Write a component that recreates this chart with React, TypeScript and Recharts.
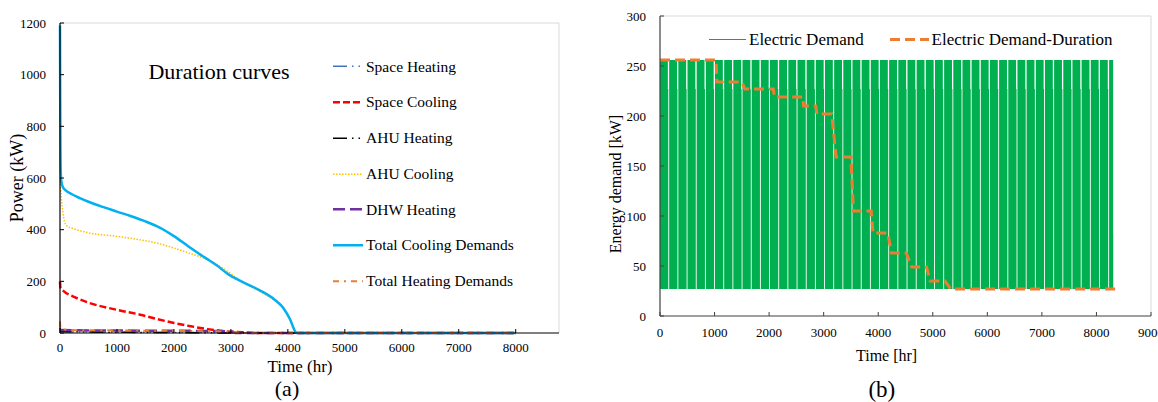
import React from "react";
import { ComposedChart, Line, Area, XAxis, YAxis, ReferenceLine } from "recharts";

const FONT = '"Liberation Serif", "Times New Roman", Times, serif';

// ---- panel (a): duration curves, [hour, kW] ----
const X_TICKS_A = [0, 1000, 2000, 3000, 4000, 5000, 6000, 7000, 8000];
const Y_TICKS_A = [0, 200, 400, 600, 800, 1000, 1200];

const SPACE_HEATING = [[0, 10], [200, 4], [1000, 3], [2000, 2], [3000, 1], [3500, 0], [8000, 0]];
const SPACE_COOLING = [
  [0, 200], [8, 175], [50, 165], [106, 155], [225, 142], [521, 116], [994, 90], [1408, 71],
  [1704, 54], [2000, 39], [2296, 26], [2592, 15], [2888, 7], [3183, 3], [3500, 0], [8000, 0],
];
const AHU_HEATING = [[0, 20], [20, 6], [500, 4], [1500, 2], [2500, 1], [3000, 0], [8000, 0]];
const AHU_COOLING = [
  [0, 600], [10, 560], [25, 520], [50, 470], [80, 430], [120, 415], [250, 403], [500, 388],
  [1000, 374], [1400, 361], [1700, 348], [2000, 329], [2300, 307], [2600, 283], [2900, 245],
  [3200, 198], [3500, 161], [3780, 124], [3920, 97], [4040, 52], [4130, 6], [4160, 0], [8000, 0],
];
const DHW_HEATING = [[0, 12], [500, 10], [1500, 9], [2500, 8], [3000, 6], [3100, 0], [8000, 0]];
const TOTAL_COOLING = [
  [0, 1190], [4, 900], [8, 720], [14, 620], [25, 585], [50, 565], [100, 552], [200, 538],
  [350, 522], [500, 508], [750, 488], [1000, 470], [1250, 452], [1500, 432], [1750, 408],
  [2000, 375], [2250, 336], [2500, 298], [2600, 284], [2750, 262], [2950, 228], [3200, 198],
  [3500, 166], [3780, 127], [3920, 97], [4040, 52], [4130, 6], [4160, 0], [8000, 0],
];
const TOTAL_HEATING = [
  [0, 45], [5, 25], [30, 14], [300, 11], [1000, 10], [2000, 8], [2800, 6], [3100, 2], [3300, 0], [8000, 0],
];

// ---- panel (b): electric demand ----
const X_TICKS_B = [0, 1000, 2000, 3000, 4000, 5000, 6000, 7000, 8000, 9000];
const Y_TICKS_B = [0, 50, 100, 150, 200, 250, 300];

// weekly blocks of the hourly electric demand
const WEEK_STARTS = [
  0, 168, 336, 504, 672, 840, 1008, 1176, 1344, 1512, 1680, 1848, 2016, 2184, 2352, 2520, 2688,
  2856, 3024, 3192, 3360, 3528, 3696, 3864, 4032, 4200, 4368, 4536, 4704, 4872, 5040, 5208, 5376,
  5544, 5712, 5880, 6048, 6216, 6384, 6552, 6720, 6888, 7056, 7224, 7392, 7560, 7728, 7896, 8064, 8232,
];
const WEEK_PROFILE = [
  { offset: 0, hi: 256 },
  { offset: 144, hi: 227 },
  { offset: 152, hi: 27 },
];
const BASE_LOAD = 27;
const DEMAND_END = 8306;
const END_PEAK = 82;

const DEMAND_DURATION = [
  [0, 256], [1029, 256], [1042, 234], [1502, 234], [1556, 227], [2077, 227], [2098, 219],
  [2619, 219], [2632, 210], [2856, 210], [2876, 202], [3147, 202], [3228, 159], [3499, 159],
  [3546, 105], [3871, 105], [3905, 83], [4175, 83], [4243, 63], [4514, 63], [4615, 49],
  [4886, 49], [4953, 35], [5224, 35], [5326, 27], [8405, 27],
];

const toPts = (arr: number[][]) => arr.map(([t, v]) => ({ t, v }));

const SERIES_A = [
  { name: "Space Heating", data: SPACE_HEATING, color: "#4472C4", width: 1.5, dash: "14 5 1.5 5 1.5 5" },
  { name: "Space Cooling", data: SPACE_COOLING, color: "#FF0000", width: 2.5, dash: "7 3" },
  { name: "AHU Heating", data: AHU_HEATING, color: "#000000", width: 1.5, dash: "14 5 1.5 5 1.5 5" },
  { name: "AHU Cooling", data: AHU_COOLING, color: "#FFC000", width: 1.5, dash: "1.5 1.5" },
  { name: "DHW Heating", data: DHW_HEATING, color: "#7030A0", width: 2.5, dash: "12 5" },
  { name: "Total Cooling Demands", data: TOTAL_COOLING, color: "#00B0F0", width: 2.5, dash: undefined },
  { name: "Total Heating Demands", data: TOTAL_HEATING, color: "#ED7D31", width: 2, dash: "6 5 2 5" },
];

function buildDemand() {
  const out: { t: number; range: number[] }[] = [];
  for (const s of WEEK_STARTS) {
    for (const p of WEEK_PROFILE) {
      const t = s + p.offset;
      if (t < DEMAND_END) out.push({ t, range: [BASE_LOAD, p.hi] });
    }
  }
  out.push({ t: DEMAND_END, range: [BASE_LOAD, END_PEAK] });
  out.push({ t: DEMAND_END + 2, range: [BASE_LOAD, BASE_LOAD] });
  return out;
}

function Txt({ x, y, size, rotate, children }: any) {
  return (
    <div
      style={{
        position: "absolute",
        left: x,
        top: y,
        transform: `translate(-50%, -50%)${rotate ? " rotate(-90deg)" : ""}`,
        fontFamily: FONT,
        fontSize: size,
        lineHeight: 1,
        whiteSpace: "nowrap",
        color: "#000",
      }}
    >
      {children}
    </div>
  );
}

function LegendRow({ x, y, w, color, width, dash, label, size }: any) {
  return (
    <div
      style={{
        position: "absolute",
        left: x,
        top: y,
        transform: "translateY(-50%)",
        display: "flex",
        alignItems: "center",
        fontFamily: FONT,
        fontSize: size,
        lineHeight: 1,
        whiteSpace: "nowrap",
      }}
    >
      <svg width={w} height={8} style={{ marginRight: 3 }}>
        <line x1={0} y1={4} x2={w} y2={4} stroke={color} strokeWidth={width} strokeDasharray={dash} />
      </svg>
      <span>{label}</span>
    </div>
  );
}

const tickA = { fontSize: 13, fill: "#000", fontFamily: FONT };
const tickB = { fontSize: 13, fill: "#000", fontFamily: FONT };

function PanelA() {
  return (
    <div style={{ position: "absolute", left: 0, top: 0, width: 580, height: 402 }}>
      <ComposedChart width={580} height={402} margin={{ top: 23, right: 21, bottom: 0, left: 0 }}>
        <XAxis
          dataKey="t"
          type="number"
          domain={[0, 8760]}
          ticks={X_TICKS_A}
          interval={0}
          height={69}
          tickSize={-4}
          tickMargin={14}
          tick={tickA}
          axisLine={{ stroke: "#000", strokeWidth: 1.2 }}
          tickLine={{ stroke: "#000" }}
        />
        <YAxis
          type="number"
          domain={[0, 1200]}
          ticks={Y_TICKS_A}
          interval={0}
          width={60}
          tickSize={-4}
          tickMargin={18}
          tick={tickA}
          axisLine={{ stroke: "#000", strokeWidth: 1.2 }}
          tickLine={{ stroke: "#000" }}
        />
        <ReferenceLine y={1200} stroke="#d9d9d9" />
        <ReferenceLine x={8760} stroke="#d9d9d9" />
        {SERIES_A.map((s) => (
          <Line
            key={s.name}
            data={toPts(s.data)}
            dataKey="v"
            type="monotone"
            stroke={s.color}
            strokeWidth={s.width}
            strokeDasharray={s.dash}
            dot={false}
            isAnimationActive={false}
          />
        ))}
      </ComposedChart>
      <Txt x={219} y={72} size={22}>Duration curves</Txt>
      <Txt x={17} y={178} size={18} rotate>Power (kW)</Txt>
      <Txt x={300} y={366} size={17}>Time (hr)</Txt>
      <Txt x={287} y={389} size={22}>(a)</Txt>
      {SERIES_A.map((s, i) => (
        <LegendRow
          key={s.name}
          x={333}
          y={66.7 + i * 35.7}
          w={30}
          color={s.color}
          width={s.width}
          dash={s.dash}
          label={s.name}
          size={15.5}
        />
      ))}
    </div>
  );
}

function PanelB() {
  const demand = buildDemand();
  return (
    <div style={{ position: "absolute", left: 580, top: 0, width: 578, height: 402 }}>
      <ComposedChart width={578} height={402} margin={{ top: 16, right: 7, bottom: 0, left: 0 }}>
        <XAxis
          dataKey="t"
          type="number"
          domain={[0, 9000]}
          ticks={X_TICKS_B}
          interval={0}
          height={86}
          tickSize={-4}
          tickMargin={16}
          tick={tickB}
          axisLine={{ stroke: "#404040", strokeWidth: 1.2 }}
          tickLine={{ stroke: "#404040" }}
        />
        <YAxis
          type="number"
          domain={[0, 300]}
          ticks={Y_TICKS_B}
          interval={0}
          width={80}
          tickSize={-4}
          tickMargin={18}
          tick={tickB}
          axisLine={{ stroke: "#404040", strokeWidth: 1.2 }}
          tickLine={{ stroke: "#404040" }}
        />
        <ReferenceLine y={300} stroke="#d9d9d9" />
        <ReferenceLine x={9000} stroke="#d9d9d9" />
        <Area
          data={demand}
          dataKey="range"
          type="stepAfter"
          fill="#00B050"
          fillOpacity={1}
          stroke="none"
          isAnimationActive={false}
        />
        <Line
          data={toPts(DEMAND_DURATION)}
          dataKey="v"
          type="linear"
          stroke="#ED7D31"
          strokeWidth={3}
          strokeDasharray="10 5"
          dot={false}
          isAnimationActive={false}
        />
      </ComposedChart>
      <Txt x={35.8} y={184} size={16} rotate>Energy demand [kW]</Txt>
      <Txt x={306.6} y={356} size={16}>Time [hr]</Txt>
      <Txt x={301.8} y={389} size={23}>(b)</Txt>
      <LegendRow x={129} y={39.3} w={37} color="#00B050" width={1} label="Electric Demand" size={17} />
      <LegendRow x={309.6} y={39.3} w={39} color="#ED7D31" width={3} dash="10 5" label="Electric Demand-Duration" size={17} />
    </div>
  );
}

export default function App() {
  return (
    <div
      style={{
        position: "absolute",
        left: 0,
        top: 0,
        width: 1158,
        height: 402,
        overflow: "hidden",
        background: "#fff",
      }}
    >
      <PanelA />
      <PanelB />
    </div>
  );
}
